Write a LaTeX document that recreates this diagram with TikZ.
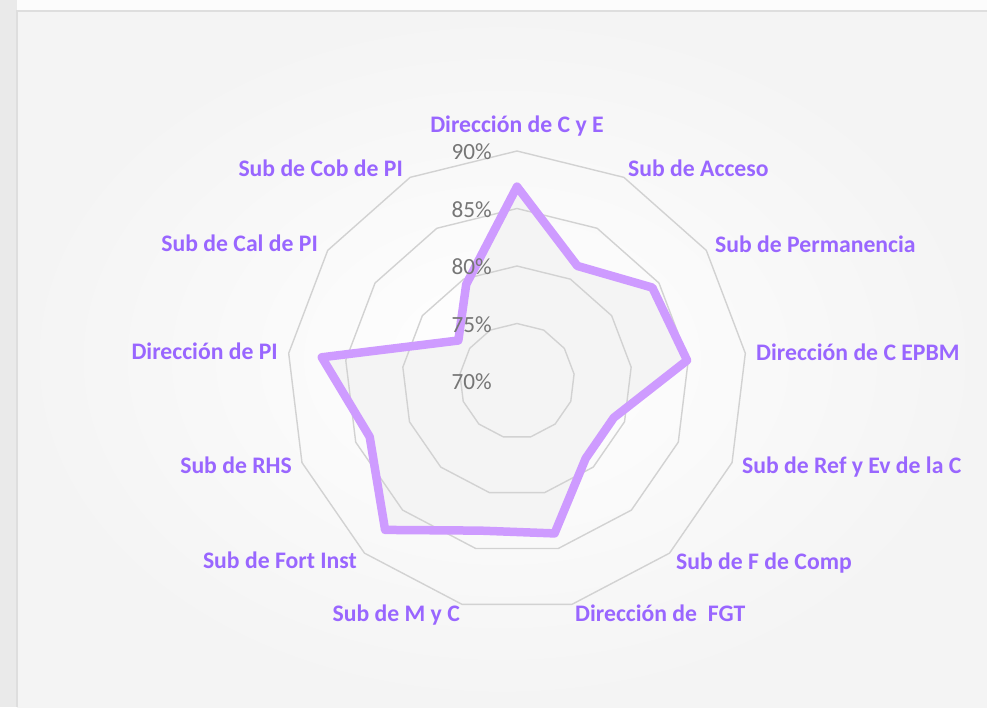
\documentclass[tikz,border=0pt]{standalone}
\usepackage{fontspec}
\setmainfont{Carlito}
\definecolor{lblpurple}{RGB}{153,102,255}
\definecolor{datapurple}{RGB}{206,155,255}
\definecolor{gridgray}{RGB}{210,210,210}
\definecolor{tickgray}{RGB}{118,118,118}
\definecolor{areafill}{RGB}{244,244,244}
\definecolor{bgedge}{RGB}{244,244,244}
\definecolor{bgtop}{RGB}{252,252,252}
\definecolor{sidegray}{RGB}{234,234,234}
\definecolor{framegray}{RGB}{222,222,222}
\begin{document}
\begin{tikzpicture}[x=1pt,y=1pt,
  catlabel/.style={font=\fontsize{23.7}{28}\selectfont\bfseries, text=lblpurple, inner sep=0pt},
  ticklabel/.style={font=\fontsize{23.2}{28}\selectfont, text=tickgray, inner sep=0pt, anchor=base east},
  ring/.style={draw=gridgray, line width=1.4pt, line join=round},
  series/.style={draw=datapurple, line width=8.5pt, line join=round}]
\useasboundingbox (0,-707) rectangle (987,0);
% background
\fill[bgtop] (0,-707) rectangle (987,0);
\fill[sidegray] (0,-707) rectangle (17,0);
\shade[inner color=white, outer color=bgedge] (17,-707) rectangle (987,-11);
\draw[framegray, line width=1.5pt] (17,-707) -- (17,-11) -- (987,-11);
\coordinate (O) at (517,-381);
% data coordinates
\def\vals{86.9,81.3,84.3,84.9,79.0,79.0,83.65,83.4,87.3,83.7,87.1,76.2,79.5}
\foreach \v [count=\k from 0] in \vals {
  \pgfmathsetmacro\ang{90-\k*360/13}
  \pgfmathsetmacro\rad{(\v-70)*11.5}
  \path (O) ++(\ang:\rad) coordinate (d\k);
}
% ring coordinates
\foreach \i in {1,...,4} {
  \foreach \k in {0,...,12} {
    \pgfmathsetmacro\ang{90-\k*360/13}
    \pgfmathsetmacro\rad{57.5*\i}
    \path (O) ++(\ang:\rad) coordinate (r\i-\k);
  }
}
% data area fill
\fill[areafill] (d0) \foreach \k in {1,...,12}{ -- (d\k)} -- cycle;
% rings
\foreach \i in {1,...,4} {
  \draw[ring] (r\i-0) \foreach \k in {1,...,12}{ -- (r\i-\k)} -- cycle;
}
% series outline
\draw[series] (d0) \foreach \k in {1,...,12}{ -- (d\k)} -- cycle;
% tick labels
\node[ticklabel] (t90) at (492,-159.5) {90\%};
\node[ticklabel] (t85) at (492,-217) {85\%};
\node[ticklabel] (t80) at (492,-274.5) {80\%};
\node[ticklabel] (t75) at (492,-332) {75\%};
\node[ticklabel] (t70) at (492,-389.5) {70\%};
% category labels
\node[catlabel, anchor=base] (c0) at (517,-132) {Dirección de C y E};
\node[catlabel, anchor=base west] (c1) at (628,-176) {Sub de Acceso};
\node[catlabel, anchor=base west] (c2) at (715,-252) {Sub de Permanencia};
\node[catlabel, anchor=base west] (c3) at (756,-360) {Dirección de C EPBM};
\node[catlabel, anchor=base west] (c4) at (742,-473.5) {Sub de Ref y Ev de la C};
\node[catlabel, anchor=base west] (c5) at (676,-569) {Sub de F de Comp};
\node[catlabel, anchor=base west] (c6) at (575,-621) {Dirección de\ \ FGT};
\node[catlabel, anchor=base east] (c7) at (460,-621) {Sub de M y C};
\node[catlabel, anchor=base east] (c8) at (357,-568.5) {Sub de Fort Inst};
\node[catlabel, anchor=base east] (c9) at (292,-473.5) {Sub de RHS};
\node[catlabel, anchor=base east] (c10) at (278,-359) {Dirección de PI};
\node[catlabel, anchor=base east] (c11) at (318,-251) {Sub de Cal de PI};
\node[catlabel, anchor=base east] (c12) at (403,-176) {Sub de Cob de PI};
\end{tikzpicture}
\end{document}
